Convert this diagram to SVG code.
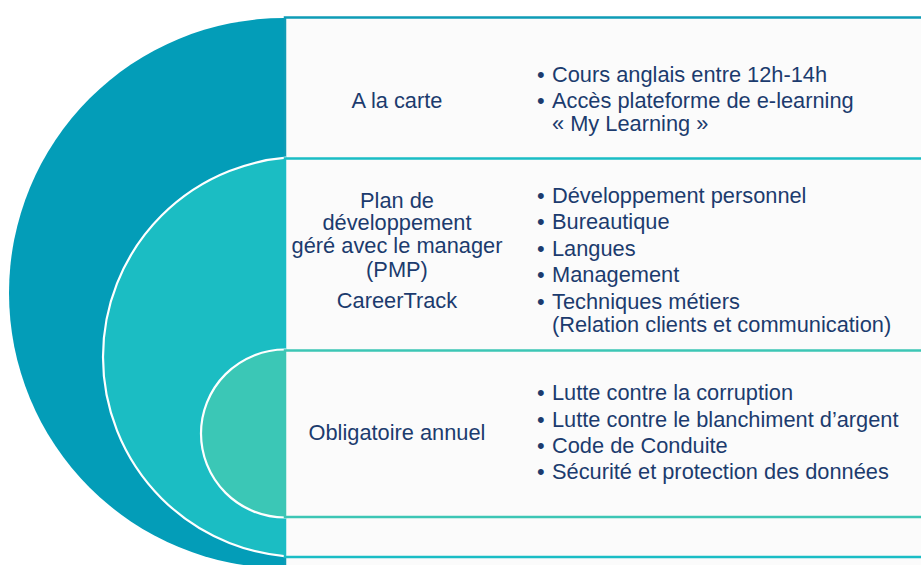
<svg xmlns="http://www.w3.org/2000/svg" width="921" height="565" viewBox="0 0 921 565">
  <style>
    .txt { font-family: "Liberation Sans", Arial, sans-serif; font-size: 21.8px; fill: #1C3B6E; }
    .mid { text-anchor: middle; }
    .panel { fill: #FBFBFB; stroke-width: 2.5; }
    .ring { stroke: #FFFFFF; stroke-width: 2.2; }
  </style>
  <defs>
    <clipPath id="leftSide">
      <rect x="0" y="0" width="286" height="565"/>
    </clipPath>
  </defs>

  <!-- Tier 1: à la carte -->
  <g id="tier-a-la-carte">
    <circle cx="284" cy="293" r="275" fill="#039DB8" clip-path="url(#leftSide)"/>
    <rect class="panel" x="285" y="17.5" width="660" height="560" stroke="#0E9CB6"/>
    <text class="txt mid" x="397" y="107.5">A la carte</text>
    <text class="txt" x="537" y="81.5">•</text>
    <text class="txt" x="552" y="81.5">Cours anglais entre 12h-14h</text>
    <text class="txt" x="537" y="107.6">•</text>
    <text class="txt" x="552" y="107.6">Accès plateforme de e-learning</text>
    <text class="txt" x="552" y="131.4">« My Learning »</text>
  </g>

  <!-- Tier 2: plan de développement -->
  <g id="tier-plan-developpement">
    <circle class="ring" cx="303" cy="357" r="200" fill="#1BBDC3" clip-path="url(#leftSide)"/>
    <rect class="panel" x="285" y="158.5" width="660" height="398.5" stroke="#1ABDC5"/>
    <text class="txt mid" x="397" y="207.5">Plan de</text>
    <text class="txt mid" x="397" y="230.3">développement</text>
    <text class="txt mid" x="397" y="253.3">géré avec le manager</text>
    <text class="txt mid" x="397" y="276.5">(PMP)</text>
    <text class="txt mid" x="397" y="307.5">CareerTrack</text>
    <text class="txt" x="537" y="202.5">•</text>
    <text class="txt" x="552" y="202.5">Développement personnel</text>
    <text class="txt" x="537" y="229.2">•</text>
    <text class="txt" x="552" y="229.2">Bureautique</text>
    <text class="txt" x="537" y="255.8">•</text>
    <text class="txt" x="552" y="255.8">Langues</text>
    <text class="txt" x="537" y="282.4">•</text>
    <text class="txt" x="552" y="282.4">Management</text>
    <text class="txt" x="537" y="309">•</text>
    <text class="txt" x="552" y="309">Techniques métiers</text>
    <text class="txt" x="552" y="331.5">(Relation clients et communication)</text>
  </g>

  <!-- Tier 3: obligatoire annuel -->
  <g id="tier-obligatoire">
    <circle class="ring" cx="285" cy="433.5" r="84" fill="#3BC7B6" clip-path="url(#leftSide)"/>
    <rect class="panel" x="285" y="350.5" width="660" height="166.5" stroke="#3CC6B5"/>
    <text class="txt mid" x="397" y="440">Obligatoire annuel</text>
    <text class="txt" x="537" y="400.2">•</text>
    <text class="txt" x="552" y="400.2">Lutte contre la corruption</text>
    <text class="txt" x="537" y="426.7">•</text>
    <text class="txt" x="552" y="426.7">Lutte contre le blanchiment d’argent</text>
    <text class="txt" x="537" y="453">•</text>
    <text class="txt" x="552" y="453">Code de Conduite</text>
    <text class="txt" x="537" y="479.4">•</text>
    <text class="txt" x="552" y="479.4">Sécurité et protection des données</text>
  </g>
</svg>
